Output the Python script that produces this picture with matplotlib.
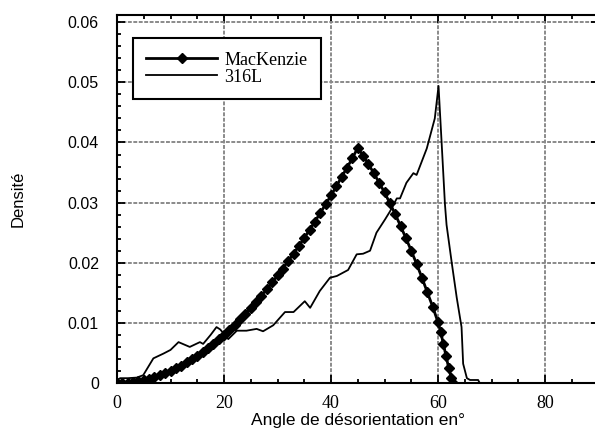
import matplotlib.pyplot as plt
import numpy as np

# MacKenzie (distribution théorique)
mk_angle = [0, 1, 2, 3, 4, 5, 6, 7, 8, 9, 10, 11, 12, 13, 14, 15, 16, 17, 18, 19,
            20, 21, 22, 23, 24, 25, 26, 27, 28, 29, 30, 31, 32, 33, 34, 35, 36, 37,
            38, 39, 40, 41, 42, 43, 44, 45, 46, 47, 48, 49, 50, 51, 52, 53, 54, 55,
            56, 57, 58, 59, 60, 60.5, 61, 61.5, 62, 62.5, 62.8]
mk_dens = [0.0, 0.00002, 0.00008, 0.00018, 0.00033, 0.00051, 0.00073, 0.00099,
           0.0013, 0.00164, 0.0020, 0.00245, 0.0029, 0.00342, 0.0040, 0.00454,
           0.0052, 0.00583, 0.0065, 0.00726, 0.0080, 0.00886, 0.0097, 0.0106,
           0.0115, 0.0125, 0.0135, 0.01453, 0.0156, 0.01672, 0.0179, 0.01904,
           0.0203, 0.02151, 0.0228, 0.02411, 0.0255, 0.02685, 0.0283, 0.02972,
           0.0312, 0.03271, 0.0343, 0.03581, 0.0374, 0.0391, 0.0378, 0.0364,
           0.0349, 0.0333, 0.0317, 0.0299, 0.0281, 0.0261, 0.0241, 0.0220,
           0.0198, 0.0175, 0.0151, 0.0127, 0.0101, 0.0085, 0.0065, 0.0045,
           0.0025, 0.0008, 0.0]

# 316L (mesure)
acier_angle = [0, 0.6, 2.0, 3.7, 4.9, 6.8, 8.7, 10.0, 11.5, 13.6, 15.5, 16.1, 17.5,
               18.6, 19.3, 20.8, 22.4, 24.2, 26.1, 27.3, 29.2, 31.4, 33.0, 35.1,
               36.1, 37.9, 39.8, 41.1, 43.2, 44.8, 46.0, 47.3, 48.5, 50.1, 51.0,
               52.3, 52.9, 54.1, 55.4, 56.0, 57.9, 59.4, 60.1, 60.7, 61.3, 61.6,
               62.6, 63.5, 64.4, 64.7, 65.4, 66.0, 67.5, 67.8]
acier_dens = [0.0005, 0.0008, 0.0008, 0.0009, 0.0013, 0.0041, 0.0049, 0.0055,
              0.0068, 0.0060, 0.0068, 0.0065, 0.0080, 0.0093, 0.0089, 0.0073,
              0.0087, 0.0087, 0.0090, 0.0086, 0.0096, 0.0118, 0.0118, 0.0136,
              0.0125, 0.0153, 0.0175, 0.0178, 0.0188, 0.0214, 0.0215, 0.0220,
              0.0250, 0.0272, 0.0285, 0.0307, 0.0307, 0.0333, 0.0349, 0.0346,
              0.0390, 0.0440, 0.0494, 0.0396, 0.0297, 0.0263, 0.0198, 0.0142,
              0.0093, 0.0032, 0.0008, 0.0005, 0.0005, 0.0]

fig = plt.figure(figsize=(5.95, 4.32), dpi=100)
ax = fig.add_axes([117 / 595, 1 - 383 / 432, (598.5 - 117) / 595, (383 - 15) / 432])

ax.plot(mk_angle, mk_dens, color='black', lw=2, marker='D', markersize=4.6,
        label='MacKenzie')
ax.plot(acier_angle, acier_dens, color='black', lw=1.3, label='316L')

ax.set_xlim(0, 90)
ax.set_ylim(0, 0.0612)
ax.set_xticks([0, 20, 40, 60, 80])
ax.set_yticks([0, 0.01, 0.02, 0.03, 0.04, 0.05, 0.06])
ax.set_yticklabels(['0', '0.01', '0.02', '0.03', '0.04', '0.05', '0.06'],
                   family='Liberation Sans', fontsize=11.5)
ax.set_xticklabels(['0', '20', '40', '60', '80'], family='Liberation Serif', fontsize=13)
ax.set_xticks(np.arange(0, 91, 5), minor=True)
ax.set_yticks(np.arange(0, 0.061, 0.002), minor=True)
ax.tick_params(which='both', direction='in', top=True, right=True, width=1.3)
ax.tick_params(which='major', length=6)
ax.tick_params(which='minor', length=3)
ax.tick_params(axis='x', which='major', pad=9)
ax.tick_params(axis='y', which='major', pad=13)
for s in ax.spines.values():
    s.set_linewidth(1.5)

ax.grid(True, which='major', color='#8a8a8a', linestyle=(0, (2, 0.8)), lw=1.4)
ax.set_axisbelow(True)

ax.set_xlabel('Angle de désorientation en°', family='Liberation Sans', fontsize=12.5,
              labelpad=0)
ax.set_ylabel('Densité', family='Liberation Sans', fontsize=12, labelpad=30)

leg = ax.legend(loc='upper left', bbox_to_anchor=(0.033, 0.9375), borderaxespad=0,
                frameon=True, fancybox=False, edgecolor='black', framealpha=1,
                prop={'family': 'Liberation Serif', 'size': 13}, handlelength=3.9,
                labelspacing=0.0, borderpad=0.75, handletextpad=0.4)
leg.get_frame().set_linewidth(1.5)
leg.legend_handles[0].set_markersize(5)

plt.savefig('out.png', dpi=100)
